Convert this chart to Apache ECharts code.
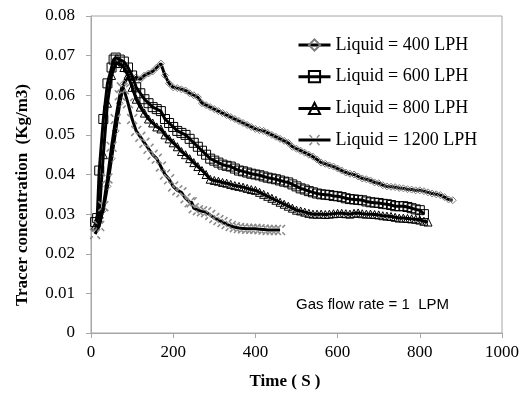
<!DOCTYPE html>
<html>
<head>
<meta charset="utf-8">
<script src="https://cdn.jsdelivr.net/npm/echarts@6/dist/echarts.min.js"></script>
<style>
  html, body { margin: 0; padding: 0; background: #fff; }
  #chart { width: 526px; height: 393px; }
</style>
</head>
<body>
<div id="chart"></div>
<script>
// [time (s), tracer concentration (kg/m3)]
const liquid400 = [
  [10, 0.026], [20, 0.028], [30, 0.031], [40, 0.037], [50, 0.044], [60, 0.051], [70, 0.058], [80, 0.063],
  [90, 0.0645], [100, 0.064], [110, 0.0645], [120, 0.064], [130, 0.065], [140, 0.0655], [150, 0.066],
  [160, 0.067], [170, 0.068], [180, 0.065], [190, 0.063], [200, 0.062], [210, 0.0618], [220, 0.0615],
  [230, 0.0612], [240, 0.0605], [250, 0.060], [260, 0.0595], [270, 0.058], [280, 0.0575], [290, 0.057],
  [300, 0.0565], [310, 0.056], [320, 0.0555], [330, 0.055], [340, 0.0545], [350, 0.054], [360, 0.0535],
  [370, 0.053], [380, 0.0525], [390, 0.052], [400, 0.0515], [410, 0.0512], [420, 0.051], [430, 0.0505],
  [440, 0.050], [450, 0.0495], [460, 0.049], [470, 0.0485], [480, 0.048], [490, 0.047], [500, 0.0465],
  [510, 0.046], [520, 0.0455], [530, 0.045], [540, 0.0445], [550, 0.0438], [560, 0.043], [570, 0.0427],
  [580, 0.0423], [590, 0.042], [600, 0.0415], [610, 0.041], [620, 0.0405], [630, 0.0402], [640, 0.040],
  [650, 0.0395], [660, 0.039], [670, 0.0388], [680, 0.0385], [690, 0.038], [700, 0.0378], [710, 0.0373],
  [720, 0.037], [730, 0.0369], [740, 0.0368], [750, 0.0366], [760, 0.0365], [770, 0.0363], [780, 0.0362],
  [790, 0.036], [800, 0.036], [810, 0.0358], [820, 0.0355], [830, 0.0352], [840, 0.035], [850, 0.0348],
  [860, 0.0343], [870, 0.0337], [880, 0.0335]
];

const liquid600 = [
  [10, 0.028], [15, 0.029], [20, 0.041], [30, 0.054], [40, 0.063], [50, 0.067], [55, 0.069], [60, 0.0695],
  [70, 0.069], [80, 0.0685], [90, 0.067], [100, 0.065], [110, 0.062], [120, 0.0605], [130, 0.059],
  [140, 0.058], [150, 0.057], [160, 0.0565], [170, 0.056], [180, 0.054], [190, 0.053], [200, 0.052],
  [210, 0.051], [220, 0.0505], [230, 0.050], [240, 0.049], [250, 0.048], [260, 0.047], [270, 0.046],
  [280, 0.045], [290, 0.044], [300, 0.0435], [310, 0.043], [320, 0.0425], [330, 0.0422], [340, 0.042],
  [350, 0.0415], [360, 0.041], [370, 0.0408], [380, 0.0405], [390, 0.0402], [400, 0.040], [410, 0.0398],
  [420, 0.0395], [430, 0.0392], [440, 0.039], [450, 0.0388], [460, 0.0385], [470, 0.0382], [480, 0.038],
  [490, 0.0375], [500, 0.037], [510, 0.0365], [520, 0.0362], [530, 0.0358], [540, 0.0355], [550, 0.0352],
  [560, 0.035], [570, 0.0349], [580, 0.0348], [590, 0.0346], [600, 0.0345], [610, 0.0343], [620, 0.034],
  [630, 0.0338], [640, 0.0337], [650, 0.0336], [660, 0.0335], [670, 0.0332], [680, 0.033], [690, 0.0329],
  [700, 0.0328], [710, 0.0326], [720, 0.0325], [730, 0.0323], [740, 0.032], [750, 0.032], [760, 0.032],
  [770, 0.0318], [780, 0.0315], [790, 0.0312], [800, 0.031], [810, 0.030]
];

const liquid800 = [
  [10, 0.027], [20, 0.030], [30, 0.045], [40, 0.058], [50, 0.065], [60, 0.068], [70, 0.068], [80, 0.067],
  [90, 0.065], [100, 0.062], [110, 0.059], [120, 0.057], [130, 0.0555], [140, 0.054], [150, 0.053],
  [160, 0.052], [170, 0.0515], [180, 0.050], [190, 0.049], [200, 0.048], [210, 0.047], [220, 0.0458],
  [230, 0.045], [240, 0.044], [250, 0.043], [260, 0.042], [270, 0.041], [280, 0.040], [290, 0.0388],
  [300, 0.0385], [310, 0.0383], [320, 0.038], [330, 0.0378], [340, 0.0375], [350, 0.0372], [360, 0.037],
  [370, 0.0368], [380, 0.0365], [390, 0.0362], [400, 0.036], [410, 0.0355], [420, 0.035], [430, 0.0345],
  [440, 0.034], [450, 0.0335], [460, 0.033], [470, 0.0325], [480, 0.032], [490, 0.0315], [500, 0.031],
  [510, 0.0308], [520, 0.0305], [530, 0.0302], [540, 0.030], [550, 0.030], [560, 0.030], [570, 0.0299],
  [580, 0.030], [590, 0.0301], [600, 0.0302], [610, 0.0302], [620, 0.0301], [630, 0.030], [640, 0.0302],
  [650, 0.0303], [660, 0.0301], [670, 0.030], [680, 0.030], [690, 0.0299], [700, 0.0298], [710, 0.0296],
  [720, 0.0295], [730, 0.0294], [740, 0.0292], [750, 0.029], [760, 0.029], [770, 0.0289], [780, 0.0288],
  [790, 0.0287], [800, 0.0285], [810, 0.0282], [820, 0.028]
];

const liquid1200 = [
  [10, 0.025], [20, 0.027], [30, 0.032], [40, 0.039], [50, 0.047], [60, 0.054], [70, 0.060], [75, 0.062],
  [80, 0.0615], [90, 0.058], [100, 0.054], [110, 0.051], [120, 0.0495], [130, 0.048], [140, 0.0465],
  [150, 0.045], [160, 0.044], [170, 0.042], [180, 0.040], [190, 0.0388], [200, 0.037], [210, 0.036],
  [220, 0.0355], [230, 0.034], [240, 0.033], [245, 0.033], [250, 0.0315], [260, 0.031], [270, 0.0307],
  [280, 0.0305], [290, 0.0298], [300, 0.029], [310, 0.0285], [320, 0.028], [330, 0.0275], [340, 0.027],
  [350, 0.0267], [360, 0.0265], [370, 0.0264], [380, 0.0263], [390, 0.0263], [400, 0.0263], [410, 0.0262],
  [420, 0.0261], [430, 0.026], [440, 0.026], [450, 0.026], [460, 0.026]
];

const seriesNames = ["Liquid = 400 LPH", "Liquid = 600 LPH", "Liquid = 800 LPH", "Liquid = 1200 LPH"];

const serif = "'Liberation Serif', 'Times New Roman', serif";
const axisGrey = "#a6a6a6";

// "x" marker drawn as four arms, leaving the centre open so the black line shows
const crossPath =
  "path://M0,1L1,0L3.4,2.4L2.4,3.4Z M9,0L10,1L7.6,3.4L6.6,2.4Z " +
  "M10,9L9,10L6.6,7.6L7.6,6.6Z M1,10L0,9L2.4,6.6L3.4,7.6Z";

const markers = [
  { symbol: "diamond", size: 7, border: "#7a7a7a" },
  { symbol: "rect", size: 9, border: "#000" },
  { symbol: "triangle", size: 8, border: "#000" },
  { symbol: crossPath, size: 11, border: null },
];

const allData = [liquid400, liquid600, liquid800, liquid1200];

const chart = echarts.init(document.getElementById("chart"), null, { renderer: "canvas" });

const series = allData.map((data, i) => {
  const m = markers[i];
  const itemStyle = m.border
    ? { color: "rgba(0,0,0,0)", borderColor: m.border, borderWidth: 1 }
    : { color: "#8a8a8a", borderWidth: 0 };
  return {
    name: seriesNames[i],
    type: "line",
    data: data,
    symbol: m.symbol,
    symbolSize: m.size,
    showSymbol: true,
    lineStyle: { color: "#000", width: 3 },
    itemStyle: itemStyle,
    emphasis: { disabled: true },
    z: 2 + i,
  };
});

const option = {
  animation: false,
  backgroundColor: "#fff",
  grid: {
    left: 91,
    right: 24,
    top: 16,
    bottom: 60,
    show: true,
    borderColor: axisGrey,
    borderWidth: 1,
  },
  legend: {
    orient: "vertical",
    left: 292,
    top: 31,
    itemWidth: 32,
    itemHeight: 14,
    itemGap: 13.7,
    lineStyle: { width: 3, color: "#000" },
    textStyle: { fontFamily: serif, fontSize: 18, color: "#000", lineHeight: 18 },
    data: seriesNames,
  },
  xAxis: {
    type: "value",
    min: 0,
    max: 1000,
    interval: 200,
    splitLine: { show: false },
    axisLine: { lineStyle: { color: axisGrey } },
    axisTick: { length: 5, lineStyle: { color: axisGrey } },
    axisLabel: {
      fontFamily: serif,
      fontSize: 17,
      color: "#000",
      margin: 11,
      formatter: (v) => String(v),
    },
  },
  yAxis: {
    type: "value",
    min: 0,
    max: 0.08,
    interval: 0.01,
    splitLine: { show: false },
    axisLine: { show: true, lineStyle: { color: axisGrey } },
    axisTick: { show: true, length: 5, lineStyle: { color: axisGrey } },
    axisLabel: {
      fontFamily: serif,
      fontSize: 17,
      color: "#000",
      margin: 16,
      formatter: (v) => (v === 0 ? "0" : v.toFixed(2)),
    },
  },
  graphic: [
    {
      type: "text",
      x: 23,
      y: 195,
      rotation: Math.PI / 2,
      style: {
        text: "Tracer concentration  (Kg/m3)",
        font: "bold 17px " + serif,
        fill: "#000",
        align: "center",
        verticalAlign: "middle",
      },
    },
    {
      type: "text",
      x: 285,
      y: 382,
      style: {
        text: "Time ( S )",
        font: "bold 17px " + serif,
        fill: "#000",
        align: "center",
        verticalAlign: "middle",
      },
    },
    {
      type: "text",
      x: 296,
      y: 305,
      style: {
        text: "Gas flow rate = 1  LPM",
        font: "15px 'Liberation Sans', Arial, sans-serif",
        fill: "#000",
        align: "left",
        verticalAlign: "middle",
      },
    },
  ],
  series: series,
};

chart.setOption(option);
</script>
</body>
</html>
